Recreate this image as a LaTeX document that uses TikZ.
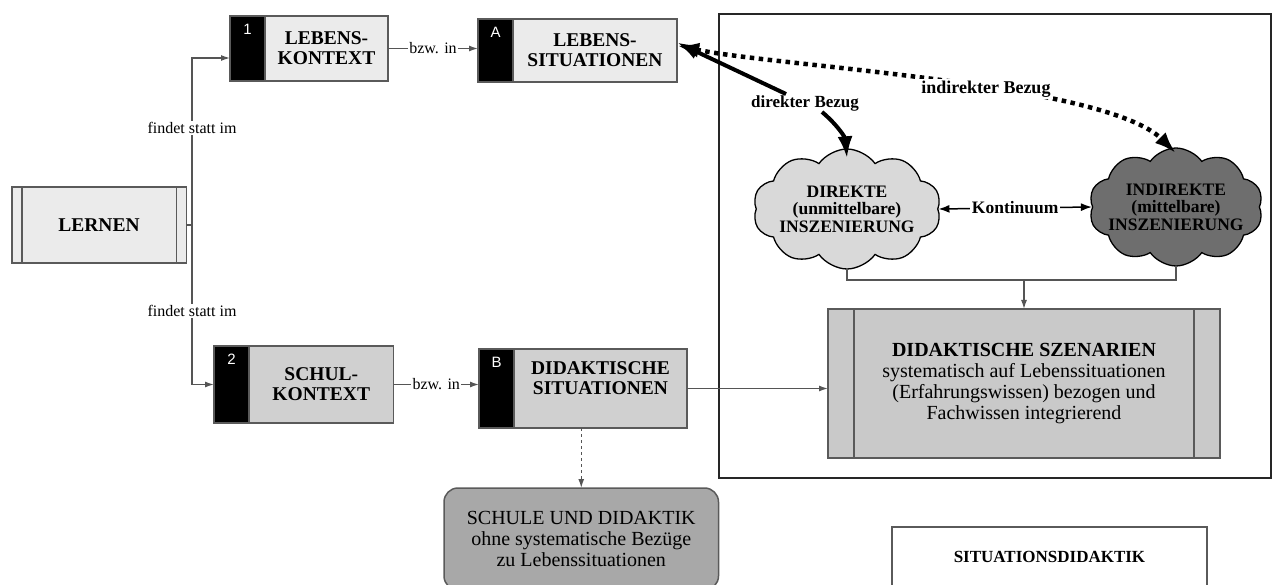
\documentclass[tikz,border=0pt]{standalone}
\usepackage{fontspec}
\setmainfont{Liberation Serif}
\newfontfamily\tagfont{Liberation Sans}
\usetikzlibrary{arrows.meta, shapes.symbols}
\definecolor{lightbox}{HTML}{EBEBEB}
\definecolor{midbox}{HTML}{D0D0D0}
\definecolor{szenbox}{HTML}{C9C9C9}
\definecolor{schulbox}{HTML}{A8A8A8}
\definecolor{lightcloud}{HTML}{D9D9D9}
\definecolor{darkcloud}{HTML}{6E6E6E}
\definecolor{boxrand}{HTML}{5A5A5A}
\definecolor{linegray}{HTML}{555555}

\begin{document}
\begin{tikzpicture}[x=1pt, y=-1pt, >={Latex[length=9pt,width=6pt]},
    box/.style={draw=boxrand, line width=1.5pt, align=center, inner sep=0pt, outer sep=0pt},
    bigfont/.style={font=\fontsize{19.5}{20}\selectfont\bfseries},
    tagbox/.style={fill=black, draw=boxrand, line width=1.5pt, minimum width=35pt, inner sep=0pt, outer sep=0pt, anchor=north east},
    tagnum/.style={anchor=north, text=white, font=\tagfont\fontsize{15}{15}\selectfont, inner sep=0pt, yshift=-8pt},
    conn/.style={draw=linegray, line width=1.3pt},
    lbl/.style={fill=white, inner sep=1.5pt, font=\fontsize{16}{16}\selectfont},
    puff/.style={cloud, cloud puffs=10, cloud puff arc=110, cloud ignores aspect, draw=black, line width=1.3pt, inner sep=0pt},
    thickarrow/.style={line width=4pt, -{Latex[length=22pt,width=15pt]}}]
    \useasboundingbox (0,0) rectangle (1272,585);

    % the frame round the scenarios
    \draw[line width=1.8pt, black!85] (719,14) rectangle (1271,478);

    % learning
    \node[box, fill=lightbox, minimum width=174.5pt, minimum height=76pt, bigfont] (lernen) at (99,225) {LERNEN};
    \draw[boxrand, line width=1.5pt] ([xshift=10pt]lernen.north west) -- ([xshift=10pt]lernen.south west);
    \draw[boxrand, line width=1.5pt] ([xshift=-10pt]lernen.north east) -- ([xshift=-10pt]lernen.south east);

    % context 1 and situation A
    \node[box, fill=lightbox, minimum width=123pt, minimum height=65pt, bigfont] (ctx1) at (326.5,48.5) {LEBENS-\\KONTEXT};
    \node[tagbox, minimum height=65pt] (tag1) at (ctx1.north west) {};
    \node[tagnum] (num1) at (tag1.north) {1};

    \node[box, fill=lightbox, minimum width=164pt, minimum height=63pt, bigfont] (sitA) at (595,50.5) {LEBENS-\\SITUATIONEN};
    \node[tagbox, minimum height=63pt] (tagA) at (sitA.north west) {};
    \node[tagnum] (numA) at (tagA.north) {A};

    % context 2 and situation B
    \node[box, fill=midbox, minimum width=144.5pt, minimum height=77pt, bigfont] (ctx2) at (321.25,384.5) {SCHUL-\\KONTEXT};
    \node[tagbox, minimum height=77pt] (tag2) at (ctx2.north west) {};
    \node[tagnum] (num2) at (tag2.north) {2};

    \node[box, fill=midbox, minimum width=173pt, minimum height=79pt, bigfont] (didB) at (600.5,388.5) {DIDAKTISCHE\\SITUATIONEN\\\mbox{}};
    \node[tagbox, minimum height=79pt] (tagB) at (didB.north west) {};
    \node[tagnum] (numB) at (tagB.north) {B};

    % school without scenarios
    \node[box, fill=schulbox, rounded corners=14pt, minimum width=274.5pt, minimum height=102pt, font=\fontsize{20}{21}\selectfont] (schule) at (581.25,539) {SCHULE UND DIDAKTIK\\ohne systematische Bezüge\\zu Lebenssituationen};

    % scenarios
    \node[box, fill=szenbox, minimum width=392pt, minimum height=149pt, font=\fontsize{20}{21}\selectfont] (szen) at (1024,383.5) {\textbf{DIDAKTISCHE SZENARIEN}\\systematisch auf Lebenssituationen\\(Erfahrungswissen) bezogen und\\Fachwissen integrierend};
    \draw[boxrand, line width=1.5pt] ([xshift=26pt]szen.north west) -- ([xshift=26pt]szen.south west);
    \draw[boxrand, line width=1.5pt] ([xshift=-26pt]szen.north east) -- ([xshift=-26pt]szen.south east);

    % situation didactics
    \node[box, fill=white, minimum width=315pt, minimum height=110pt, anchor=north] (sitdid) at (1049.5,527) {};
    \node[font=\fontsize{17}{17}\selectfont\bfseries] (sitdidlbl) at (1049.5,557) {SITUATIONSDIDAKTIK};

    % the two clouds
    \node[puff, fill=lightcloud, minimum width=188pt, minimum height=120pt] (dcloud) at (847,209) {};
    \node[font=\fontsize{17.5}{17.5}\selectfont\bfseries, align=center] (dtxt) at (dcloud.center) {DIREKTE\\(unmittelbare)\\INSZENIERUNG};
    \node[puff, fill=darkcloud, minimum width=174pt, minimum height=118pt] (icloud) at (1176,207) {};
    \node[font=\fontsize{17.5}{17.5}\selectfont\bfseries, align=center] (itxt) at (icloud.center) {INDIREKTE\\(mittelbare)\\INSZENIERUNG};

    % findet statt im
    \coordinate (fork) at (192,225);
    \draw[conn] (lernen.east) -- (fork);
    \draw[conn, ->] (fork) |- ([yshift=-9.5pt]tag1.west) node[lbl, pos=0.29] (fst1) {findet statt im};
    \draw[conn, ->] (fork) |- (tag2.west) node[lbl, pos=0.27] (fst2) {findet statt im};

    % bzw. in
    \draw[conn, ->] (ctx1.east) -- (ctx1.east -| tagA.west) node[lbl, midway] (bzw1) {bzw. in};
    \draw[conn, ->] (ctx2.east) -- (ctx2.east -| tagB.west) node[lbl, midway] (bzw2) {bzw. in};

    % B to scenarios and to school
    \draw[conn, ->] (didB.east) -- (didB.east -| szen.west);
    \draw[conn, dashed, ->] (schule.north |- didB.south) -- (schule.north);

    % clouds to scenarios
    \coordinate (join) at (1024,280);
    \draw[conn] (dcloud.south) |- (join) -| (icloud.south);
    \draw[conn, ->] (join) -- (szen.north);

    % Kontinuum
    \draw[line width=1.5pt, {Latex[length=11pt,width=8pt]}-{Latex[length=11pt,width=8pt]}] (dcloud.east) -- (icloud.west) node[midway, fill=white, inner sep=2pt, font=\fontsize{17.5}{17.5}\selectfont\bfseries] (kont) {Kontinuum};

    % direkter Bezug
    \node[font=\fontsize{17}{17}\selectfont\bfseries, inner sep=1pt] (dirbez) at (805,103) {direkter Bezug};
    \draw[thickarrow] (dirbez) -- ([yshift=8pt]sitA.east);
    \draw[thickarrow] ([xshift=17pt]dirbez.south) to[out=-40, in=95] ([yshift=-10pt]dcloud.north);

    % indirekter Bezug
    \draw[line width=4.5pt, dash pattern=on 4.5pt off 4.5pt, {Latex[length=22pt,width=15pt]}-{Latex[length=22pt,width=15pt]}] ([yshift=5pt]sitA.east) to[out=-12, in=135, looseness=0.5] node[pos=0.58, fill=white, inner sep=2pt, font=\fontsize{18}{18}\selectfont\bfseries] (indbez) {indirekter Bezug} ([yshift=-6pt]icloud.north);

\end{tikzpicture}
\end{document}
